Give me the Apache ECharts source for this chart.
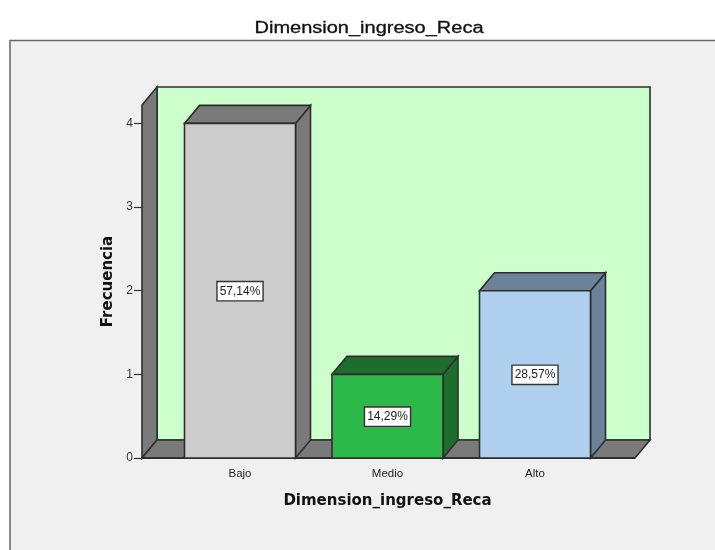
<!DOCTYPE html>
<html>
<head>
<meta charset="utf-8">
<style>html,body{margin:0;padding:0;background:#fff}#c{width:715px;height:550px}</style>
<script src="https://cdn.jsdelivr.net/npm/echarts@6/dist/echarts.min.js"></script>
</head>
<body>
<div id="c"></div>
<script>
const titleText = 'Dimension_ingreso_Reca';
const xName = 'Dimension_ingreso_Reca';
const yName = 'Frecuencia';
const categories = ['Bajo', 'Medio', 'Alto'];
const frequencies = [4, 1, 2];
const percentLabels = ['57,14%', '14,29%', '28,57%'];
const yTicks = [0, 1, 2, 3, 4];
const frontColors = ['#cccccc', '#2db84a', '#aed0ee'];
const topColors = ['#7a7a7a', '#1d6e2d', '#6b8299'];

const DX = 15, DY = -18, GL = 166.25, GW = 442.5, GT = 105, GH = 353;
const EDGE = '#2e2e2e';
const chart = echarts.init(document.getElementById('c'), null, {renderer: 'canvas'});

function poly(points, fill, z) {
  return {type: 'polygon', shape: {points}, z2: z || 0,
    style: {fill, stroke: EDGE, lineWidth: 1.6}};
}

function renderWalls(params, api) {
  const cs = params.coordSys;
  const L = cs.x - 24.25, R = cs.x + cs.width + 26.25, B = cs.y + cs.height, T = cs.y;
  return {type: 'group', children: [
    poly([[L + DX, T + DY], [R + DX, T + DY], [R + DX, B + DY], [L + DX, B + DY]], '#ccffcc'),
    poly([[L, T], [L + DX, T + DY], [L + DX, B + DY], [L, B]], '#7a7a7a'),
    poly([[L, B], [L + DX, B + DY], [R + DX, B + DY], [R, B]], '#7a7a7a'),
    {type: 'line', shape: {x1: L, y1: B, x2: R, y2: B}, style: {stroke: EDGE, lineWidth: 1.8}}
  ]};
}

function renderBar(params, api) {
  const i = api.value(0), v = api.value(1);
  const top = api.coord([i, v]), base = api.coord([i, 0]);
  const w = api.size([1, 0])[0] * 0.7525;
  const l = top[0] - w / 2, r = top[0] + w / 2, t = top[1], b = base[1];
  const ym = (t + b) / 2 + 0.5;
  return {type: 'group', children: [
    poly([[r, t], [r + DX, t + DY], [r + DX, b + DY], [r, b]], topColors[i]),
    poly([[l, t], [l + DX, t + DY], [r + DX, t + DY], [r, t]], topColors[i]),
    poly([[l, t], [r, t], [r, b], [l, b]], frontColors[i]),
    {type: 'text', z2: 5, style: {
      x: top[0], y: ym, text: percentLabels[i], align: 'center', verticalAlign: 'middle',
      font: '12px "Liberation Sans"', fill: '#222222',
      backgroundColor: '#ffffff', borderColor: '#333333', borderWidth: 1.4,
      padding: [3, 2, 3, 2]
    }}
  ]};
}

chart.setOption({
  animation: false,
  backgroundColor: '#ffffff',
  graphic: [{
    type: 'rect', z: -10, silent: true,
    shape: {x: 10, y: 40.5, width: 720, height: 530},
    style: {fill: '#f0f0f0', stroke: '#666666', lineWidth: 1.5}
  }, {
    type: 'text', z: 10, silent: true,
    x: 369, y: 28.5, scaleX: 1.25, scaleY: 1,
    style: {
      text: titleText, align: 'center', verticalAlign: 'middle',
      font: '16px "Liberation Sans"', fill: '#111111', stroke: '#111111', lineWidth: 0.3
    }
  }],
  grid: {left: GL, top: GT, width: GW, height: GH},
  xAxis: {
    type: 'category', data: categories,
    axisLine: {show: false},
    axisTick: {alignWithLabel: true, length: 7, lineStyle: {color: '#333333', width: 1.2}},
    axisLabel: {fontFamily: 'Liberation Sans', fontSize: 11.5, color: '#222222', margin: 10},
    name: xName, nameLocation: 'middle', nameGap: 36,
    nameTextStyle: {fontFamily: 'DejaVu Sans', fontSize: 15, fontWeight: 'bold', color: '#111111'}
  },
  yAxis: {
    type: 'value', min: 0, max: 4.22, offset: 24.25,
    splitLine: {show: false},
    axisLine: {show: true, lineStyle: {color: '#333333', width: 1}},
    axisTick: {show: true, length: 8, customValues: yTicks, lineStyle: {color: '#333333', width: 1.2}},
    axisLabel: {customValues: yTicks, fontFamily: 'Liberation Sans', fontSize: 12, color: '#333333', margin: 9},
    name: yName, nameLocation: 'middle', nameGap: 25, nameRotate: 90,
    nameTextStyle: {fontFamily: 'DejaVu Sans', fontSize: 15, fontWeight: 'bold', color: '#111111'}
  },
  series: [
    {type: 'custom', silent: true, z: 1, renderItem: renderWalls, data: [[0, 0]], clip: false,
     encode: {x: 0, y: 1}, tooltip: {show: false}},
    {type: 'custom', z: 2, renderItem: renderBar, clip: false,
     data: categories.map((c, i) => [i, frequencies[i]]), encode: {x: 0, y: 1}}
  ]
});
</script>
</body>
</html>
